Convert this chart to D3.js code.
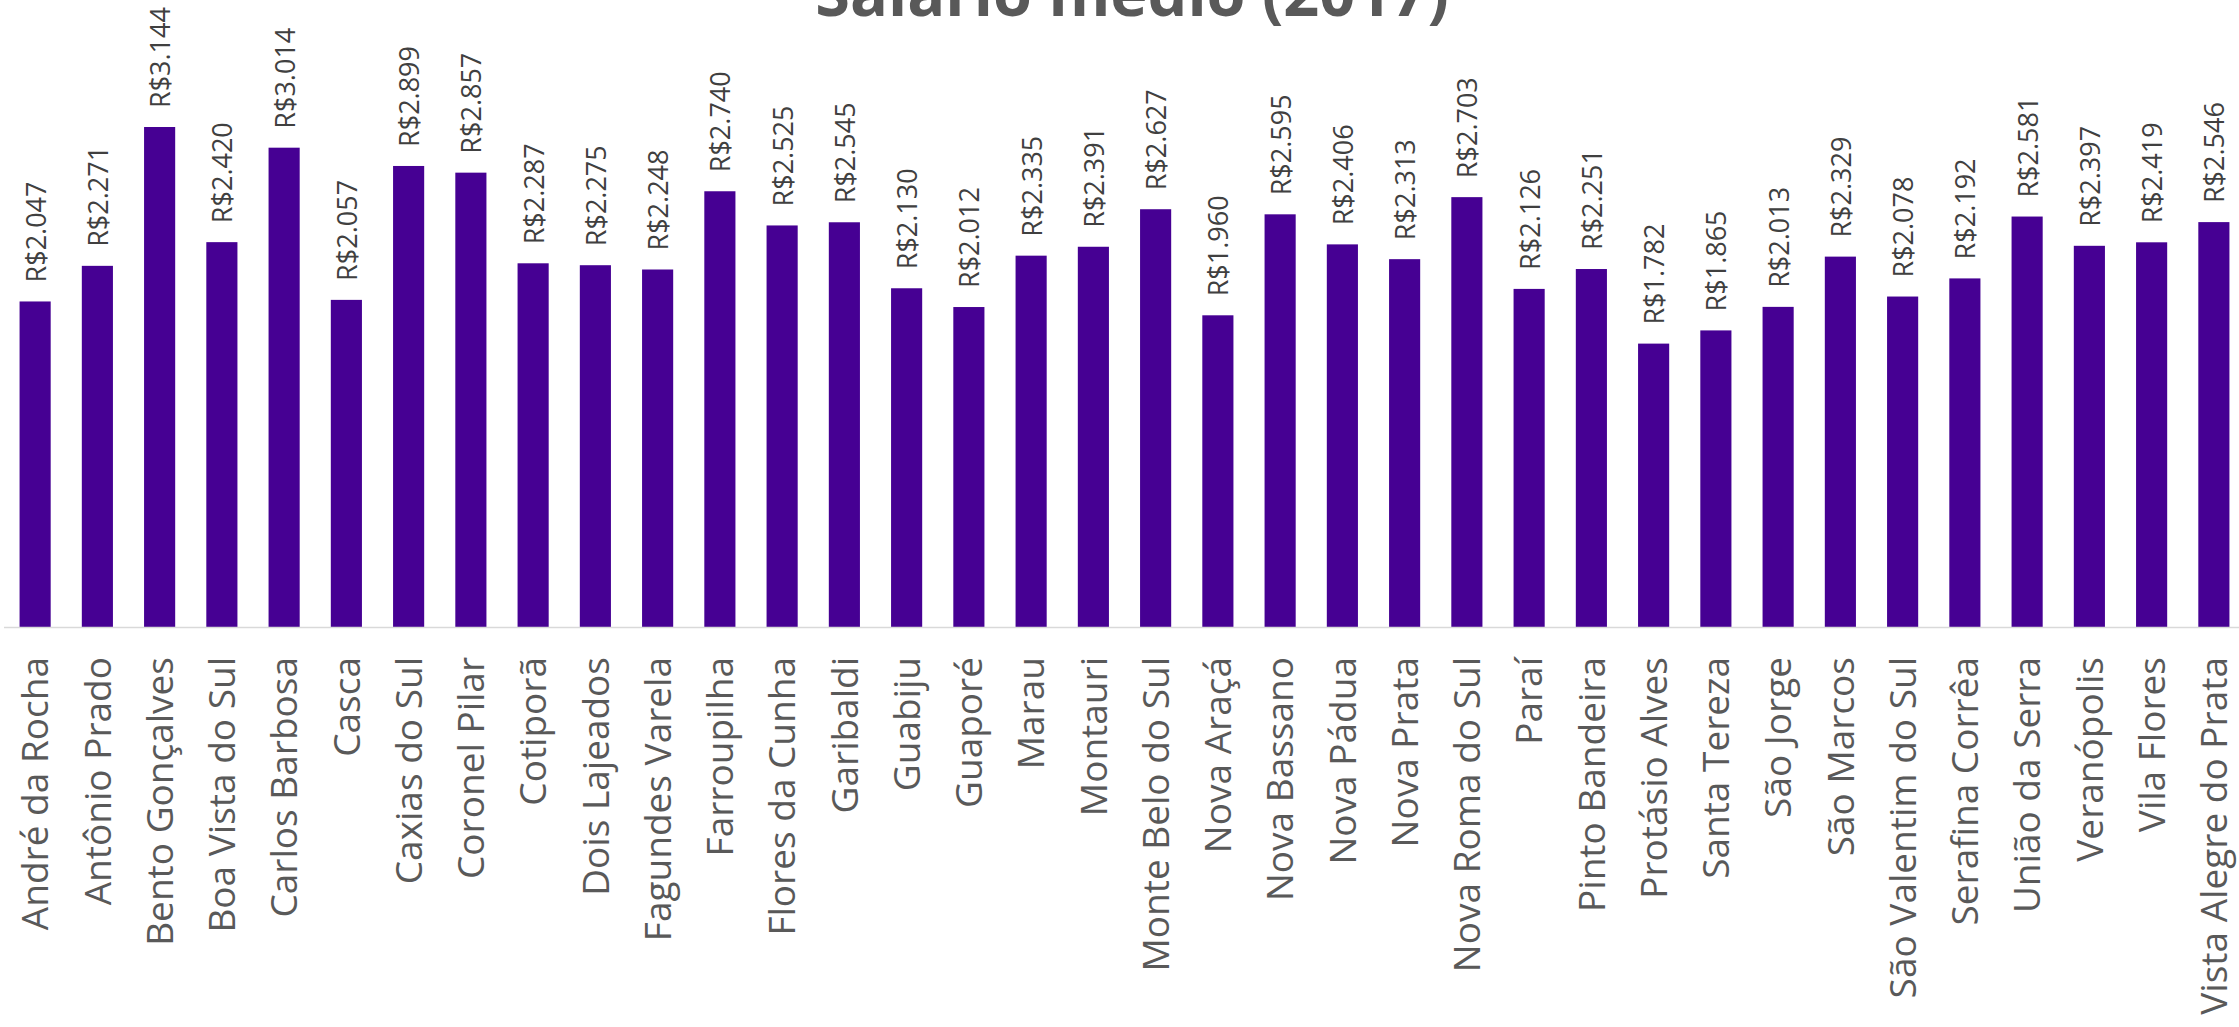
<!DOCTYPE html>
<html>
<head>
<meta charset="utf-8">
<script src="https://cdn.jsdelivr.net/npm/d3@7"></script>
<style>
  html, body { margin: 0; padding: 0; background: #fff; overflow: hidden; }
</style>
</head>
<body>
<div id="chart"></div>
<script>
/******************************data***************************************/
var cidades = ["André da Rocha", "Antônio Prado", "Bento Gonçalves", "Boa Vista do Sul",
	"Carlos Barbosa", "Casca", "Caxias do Sul", "Coronel Pilar", "Cotiporã", "Dois Lajeados",
	"Fagundes Varela", "Farroupilha", "Flores da Cunha", "Garibaldi", "Guabiju", "Guaporé",
	"Marau", "Montauri", "Monte Belo do Sul", "Nova Araçá", "Nova Bassano", "Nova Pádua",
	"Nova Prata", "Nova Roma do Sul", "Paraí", "Pinto Bandeira", "Protásio Alves",
	"Santa Tereza", "São Jorge", "São Marcos", "São Valentim do Sul", "Serafina Corrêa",
	"União da Serra", "Veranópolis", "Vila Flores", "Vista Alegre do Prata"];

var salarios = [2047, 2271, 3144, 2420, 3014, 2057, 2899, 2857, 2287, 2275,
	2248, 2740, 2525, 2545, 2130, 2012, 2335, 2391, 2627, 1960,
	2595, 2406, 2313, 2703, 2126, 2251, 1782, 1865, 2013, 2329,
	2078, 2192, 2581, 2397, 2419, 2546];

var titulo = "Salário médio (2017)";

/******************************draw bar chart***************************************/
function barChart(div){
	var width = 2239,
		height = 1027,
		base = 627;

	var brl = d3.formatLocale({decimal: ",", thousands: ".", grouping: [3], currency: ["R$", ""]});
	var fmt = brl.format("$,.0f");

	var svg = d3.select(div).append("svg")
		.attr("width", width)
		.attr("height", height)
		.style("background-color", "white")
		.style("font-family", "'Open Sans', sans-serif");

	var x = d3.scaleBand()
		.domain(cidades)
		.range([4, 2245])
		.paddingInner(0.5)
		.paddingOuter(0.25);

	var y = d3.scaleLinear()
		.domain([0, 3500])
		.range([base, base - 3500 * 0.15903]);

	svg.append("text")
		.attr("x", 1132)
		.attr("y", 16)
		.attr("text-anchor", "middle")
		.style("font-size", "63px")
		.style("font-weight", "bold")
		.style("fill", "#595959")
		.text(titulo);

	var data = cidades.map(function(c, i){ return {cidade: c, valor: salarios[i]}; });

	svg.selectAll(".bar")
		.data(data)
		.enter().append("rect")
		.attr("class", "bar")
		.attr("x", function(d){ return x(d.cidade); })
		.attr("width", x.bandwidth())
		.attr("y", function(d){ return y(d.valor); })
		.attr("height", function(d){ return base - y(d.valor); })
		.style("fill", "#460093");

	// eixo x: so a linha, sem ticks
	svg.append("line")
		.attr("x1", 4)
		.attr("x2", width)
		.attr("y1", base + 0.5)
		.attr("y2", base + 0.5)
		.style("stroke", "#d9d9d9")
		.style("stroke-width", 1.5);

	svg.selectAll(".valor")
		.data(data)
		.enter().append("text")
		.attr("class", "valor")
		.attr("transform", function(d){
			return "translate(" + (x(d.cidade) + x.bandwidth() / 2 + 1) + "," + (y(d.valor) - 19) + ") rotate(-90)";
		})
		.attr("dy", "0.35em")
		.style("font-size", "27px")
		.style("fill", "#404040")
		.text(function(d){ return fmt(d.valor); });

	svg.selectAll(".cidade")
		.data(cidades)
		.enter().append("text")
		.attr("class", "cidade")
		.attr("transform", function(d){
			return "translate(" + (x(d) + x.bandwidth() / 2) + "," + (base + 30) + ") rotate(-90)";
		})
		.attr("dy", "0.36em")
		.attr("text-anchor", "end")
		.style("font-size", "37px")
		.style("fill", "#595959")
		.text(function(d){ return d; });
}

barChart("#chart");
</script>
</body>
</html>
